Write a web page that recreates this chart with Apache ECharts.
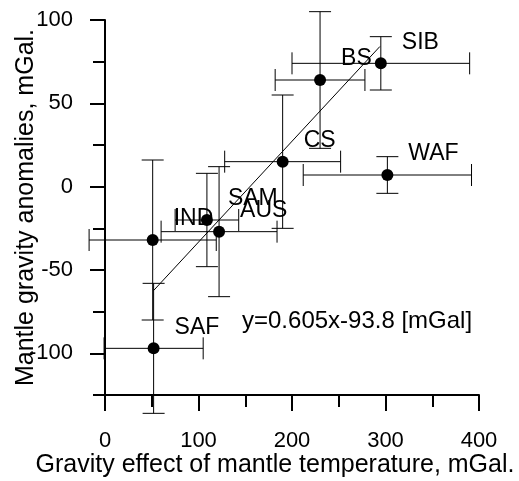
<!DOCTYPE html>
<html>
<head>
<meta charset="utf-8">
<script src="https://cdn.jsdelivr.net/npm/echarts@6/dist/echarts.min.js"></script>
<style>
  html, body { margin: 0; padding: 0; background: #fff; }
</style>
</head>
<body>
<div id="main" style="width: 519px;height:481px;"></div>
<script>
// 区域名称和数据
const names = ['SIB', 'BS', 'CS', 'WAF', 'SAM', 'AUS', 'IND', 'SAF'];
const xVals = [295, 230, 190, 302, 109, 122, 51, 52];
const yVals = [74, 64, 15, 7, -20, -27, -32, -97];
const xErr = [95, 48, 62, 90, 34, 62, 68, 53];
const yErr = [16, 41, 40, 11, 28, 39, 48, 39];
// 回归线端点
const fitLine = [[52, -62.3], [294, 84.1]];
const fitText = 'y=0.605x-93.8 [mGal]';
const yMajorTicks = [-100, -50, 0, 50, 100];
const yMinorTicks = [-125, -75, -25, 25, 75];

const FONT = '"Liberation Sans", Arial, Helvetica, sans-serif';

var myChart = echarts.init(document.getElementById('main'));

function renderErr(params, api) {
  let x = api.value(0), y = api.value(1), ex = api.value(2), ey = api.value(3);
  let c = api.coord([x, y]);
  let l = api.coord([x - ex, y]);
  let r = api.coord([x + ex, y]);
  let t = api.coord([x, y + ey]);
  let b = api.coord([x, y - ey]);
  let cap = 11;
  let st = { stroke: '#000', lineWidth: 1 };
  let seg = function (x1, y1, x2, y2) {
    return { type: 'line', shape: { x1: x1, y1: y1, x2: x2, y2: y2 }, style: st };
  };
  return {
    type: 'group',
    children: [
      seg(l[0], c[1], r[0], c[1]),
      seg(l[0], c[1] - cap, l[0], c[1] + cap),
      seg(r[0], c[1] - cap, r[0], c[1] + cap),
      seg(c[0], t[1], c[0], b[1]),
      seg(c[0] - cap, t[1], c[0] + cap, t[1]),
      seg(c[0] - cap, b[1], c[0] + cap, b[1])
    ]
  };
}

let option = {
  animation: false,
  textStyle: { fontFamily: FONT },
  grid: { left: 105, right: 40, top: 20, bottom: 86, containLabel: false, outerBoundsMode: 'none' },
  xAxis: {
    type: 'value',
    min: 0,
    max: 400,
    interval: 100,
    name: 'Gravity effect of mantle temperature, mGal.',
    nameLocation: 'middle',
    nameGap: 58,
    nameMoveOverlap: false,
    nameTextStyle: { fontSize: 25, color: '#000', fontFamily: FONT, padding: [0, 34, 0, 0] },
    axisLine: { onZero: false, lineStyle: { color: '#000', width: 2 } },
    axisTick: { length: 16, lineStyle: { color: '#000', width: 2 } },
    minorTick: { show: true, splitNumber: 2, length: 12, lineStyle: { color: '#000', width: 2 } },
    splitLine: { show: false },
    axisLabel: { margin: 35, fontSize: 22, color: '#000', fontFamily: FONT }
  },
  yAxis: [
    {
      type: 'value',
      min: -125,
      max: 100,
      name: 'Mantle gravity anomalies, mGal.',
      nameLocation: 'middle',
      nameRotate: 90,
      nameGap: 66,
      nameMoveOverlap: false,
      nameTextStyle: { fontSize: 25, color: '#000', fontFamily: FONT },
      axisLine: { show: true, onZero: false, lineStyle: { color: '#000', width: 2 } },
      axisTick: { show: true, length: 15, customValues: yMajorTicks, lineStyle: { color: '#000', width: 2 } },
      splitLine: { show: false },
      axisLabel: { margin: 32, fontSize: 22, color: '#000', fontFamily: FONT, customValues: yMajorTicks }
    },
    {
      type: 'value',
      min: -125,
      max: 100,
      position: 'left',
      axisLine: { show: false, onZero: false },
      axisTick: { show: true, length: 12, customValues: yMinorTicks, lineStyle: { color: '#000', width: 2 } },
      splitLine: { show: false },
      axisLabel: { show: false }
    }
  ],
  graphic: [
    {
      type: 'text',
      x: 242,
      y: 321,
      style: { text: fitText, fontSize: 24, fontFamily: FONT, fill: '#000', verticalAlign: 'middle' }
    }
  ],
  series: [
    {
      type: 'custom',
      renderItem: renderErr,
      encode: { x: 0, y: 1 },
      z: 2,
      data: xVals.map(function (x, i) { return [x, yVals[i], xErr[i], yErr[i]]; })
    },
    {
      type: 'line',
      data: fitLine,
      symbol: 'none',
      z: 3,
      lineStyle: { color: '#000', width: 1 }
    },
    {
      type: 'scatter',
      symbolSize: 12,
      z: 4,
      itemStyle: { color: '#000', opacity: 1 },
      label: {
        show: true,
        position: 'right',
        distance: 15,
        offset: [0, -21],
        formatter: '{b}',
        fontSize: 23,
        color: '#000',
        fontFamily: FONT
      },
      data: xVals.map(function (x, i) { return { name: names[i], value: [x, yVals[i]] }; })
    }
  ]
};

myChart.setOption(option);
</script>
</body>
</html>
